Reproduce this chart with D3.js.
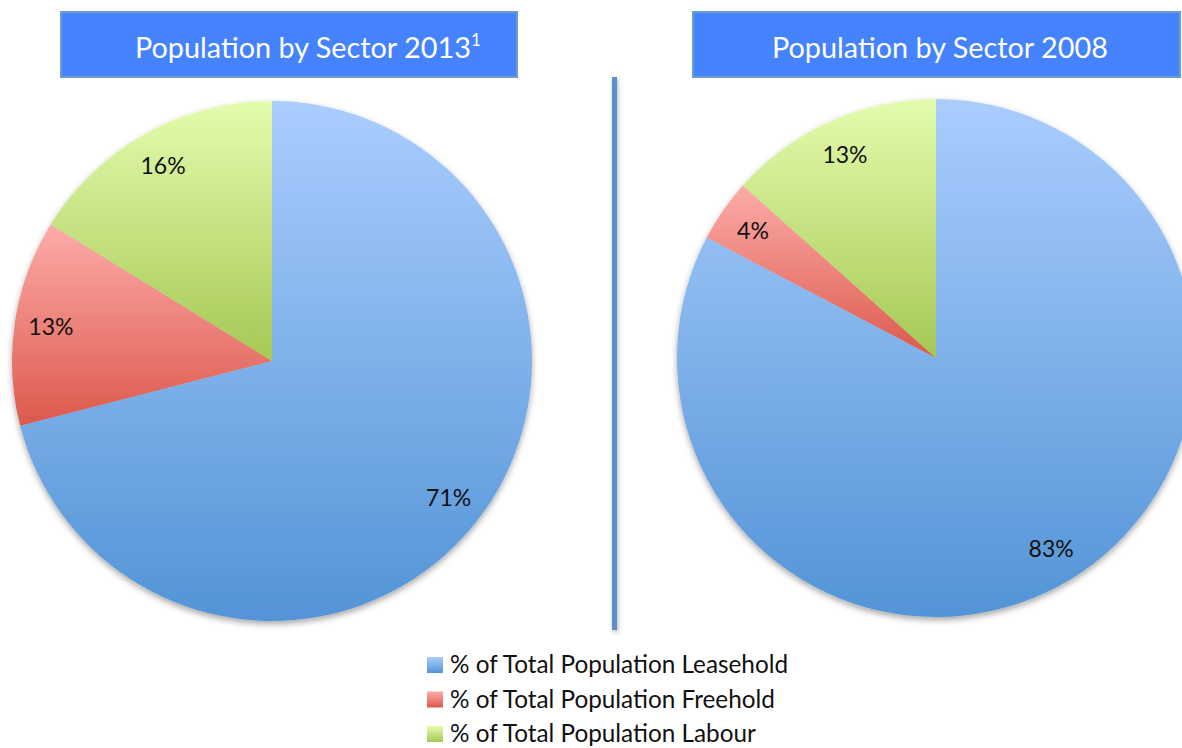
<!DOCTYPE html>
<html><head><meta charset="utf-8">
<script src="https://cdn.jsdelivr.net/npm/d3@7"></script>
<style>body{margin:0;background:#fff;}svg{display:block;font-family:Lato,"Open Sans",sans-serif;}</style>
</head><body>
<svg id="c" width="1182" height="748"></svg>
<script>
const categories = ["% of Total Population Leasehold", "% of Total Population Freehold", "% of Total Population Labour"];
const values2013 = [71, 12.8, 16.2];
const values2008 = [82.7, 3.9, 13.4];
const titles = ["Population by Sector 2013", "Population by Sector 2008"];
const titleSup = ["1", ""];
const gradTop = ["#aacdfe", "#fdaca9", "#e4fcad"];
const gradBottom = ["#5394d6", "#dc594c", "#a5c855"];

const svg = d3.select("#c");
const defs = svg.append("defs");
categories.forEach((c, i) => {
  const g = defs.append("linearGradient").attr("id", "g" + i).attr("x1", 0).attr("y1", 0).attr("x2", 0).attr("y2", 1);
  g.append("stop").attr("offset", 0).attr("stop-color", gradTop[i]);
  g.append("stop").attr("offset", 1).attr("stop-color", gradBottom[i]);
});
const f = defs.append("filter").attr("id", "sh").attr("x", "-10%").attr("y", "-10%").attr("width", "120%").attr("height", "120%");
f.append("feDropShadow").attr("dx", 0).attr("dy", 3).attr("stdDeviation", 3).attr("flood-color", "#000").attr("flood-opacity", 0.35);
const f2 = defs.append("filter").attr("id", "sh2").attr("x", "-200%").attr("y", "-5%").attr("width", "500%").attr("height", "110%");
f2.append("feDropShadow").attr("dx", 1).attr("dy", 2).attr("stdDeviation", 2).attr("flood-color", "#000").attr("flood-opacity", 0.3);

const pies = [
  {vals: values2013, cx: 272, cy: 361, r: 260, box: [61, 12, 456, 65], tx: 135},
  {vals: values2008, cx: 936, cy: 358, r: 259, box: [693, 12, 487, 65], tx: 772}
];
const pie = d3.pie().sort(null).value(d => d);

pies.forEach((p, k) => {
  const g = svg.append("g").attr("transform", `translate(${p.cx},${p.cy})`);
  const arcs = pie(p.vals);
  const arc = d3.arc().innerRadius(0).outerRadius(p.r);
  const lab = d3.arc().innerRadius(p.r * 0.86).outerRadius(p.r * 0.86);
  const sg = g.append("g").attr("filter", "url(#sh)");
  sg.selectAll("path").data(arcs).join("path")
    .attr("d", arc).attr("fill", (d, i) => `url(#g${i})`);
  g.selectAll("text").data(arcs).join("text")
    .attr("transform", d => `translate(${lab.centroid(d)})`)
    .attr("text-anchor", "middle").attr("dy", "0.35em")
    .attr("font-size", 23).attr("fill", "#111")
    .text(d => Math.round(d.data) + "%");
  const b = p.box;
  svg.append("rect").attr("x", b[0]).attr("y", b[1]).attr("width", b[2]).attr("height", b[3])
    .attr("fill", "#4482fe").attr("stroke", "#6d9ccd").attr("stroke-width", 2);
  const t = svg.append("text").attr("x", p.tx).attr("y", b[1] + 46)
    .attr("font-size", 28.8).attr("fill", "#fff").text(titles[k]);
  if (titleSup[k]) t.append("tspan").attr("font-size", 17).attr("dy", -12).text(titleSup[k]);
});

svg.append("rect").attr("x", 612).attr("y", 77).attr("width", 5).attr("height", 553)
  .attr("fill", "#5b8fce").attr("filter", "url(#sh2)");

const lg = svg.append("g");
categories.forEach((c, i) => {
  const y = 657 + i * 34.5;
  lg.append("rect").attr("x", 427).attr("y", y).attr("width", 16).attr("height", 16).attr("fill", `url(#g${i})`);
  lg.append("text").attr("x", 450).attr("y", y + 16).attr("font-size", 24.3).attr("fill", "#111").text(c);
});
</script>
</body></html>
